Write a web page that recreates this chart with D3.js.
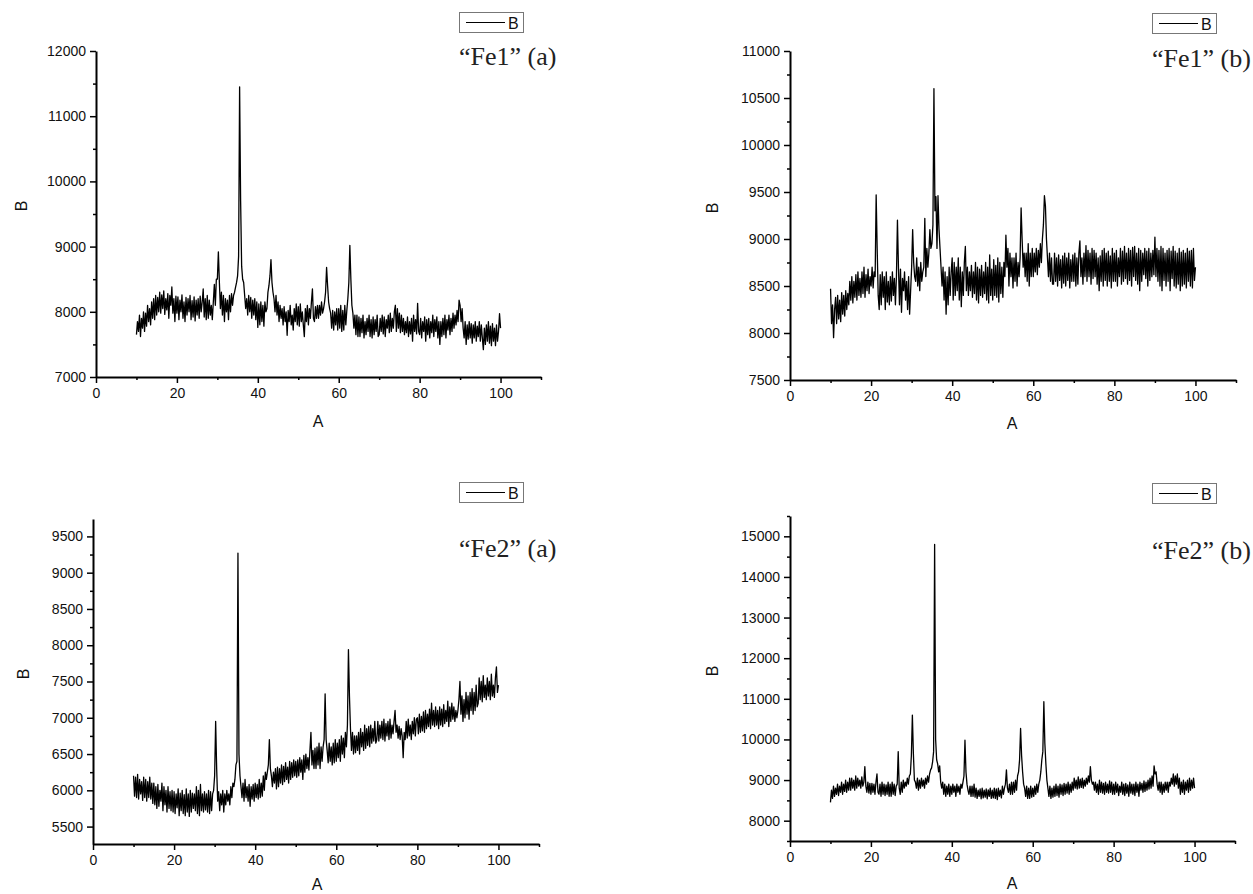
<!DOCTYPE html>
<html>
<head>
<meta charset="utf-8">
<script src="https://cdn.jsdelivr.net/npm/d3@7"></script>
<style>
  body { margin: 0; background: #fff; }
  svg { display: block; }
  .tick text { font-family: "Liberation Sans", Arial, sans-serif; font-size: 14px; fill: #111; }
</style>
</head>
<body>
<svg id="chart" width="1253" height="894"></svg>
<script>
// every series is sampled on the same grid: 10 .. 100, step 0.25 (one row = 5 degrees)
const xStart = 10;
const xStep = 0.25;

// "Fe1" (a)
const fe1a = [
  7650, 7850, 7700, 7950, 7620, 7900, 7750, 8000, 7700, 7980, 7780, 8100, 7850, 8050, 7800, 8150, 7900, 8200, 7880, 8250,
  7950, 8220, 8000, 8300, 7980, 8260, 8050, 8320, 7960, 8200, 8030, 8280, 7900, 8250, 8100, 8380, 7980, 8200, 7850, 8240,
  7980, 8230, 7880, 8180, 8000, 8260, 7900, 8150, 7850, 8220, 7950, 8200, 8000, 8250, 7880, 8170, 7920, 8230, 7860, 8180,
  7950, 8200, 7900, 8240, 8000, 8150, 8350, 7920, 8200, 7880, 8250, 7900, 8180, 7950, 8100, 7880, 8150, 8420, 8100, 8500,
  8500, 8920, 8450, 8050, 8300, 7950, 8250, 7850, 8200, 8000, 8180, 7880, 8250, 8000, 8280, 8100, 8250, 8300, 8380, 8450,
  8550, 8850, 11450, 9700, 8700, 8500, 8450, 8250, 8050, 8200, 7950, 8250, 8000, 8220, 7900, 8180, 7950, 8200, 7880, 8150,
  7760, 8120, 7800, 8150, 7850, 8100, 7780, 8150, 8000, 8050, 8300, 8400, 8550, 8800, 8450, 8300, 8200, 8000, 8250, 7950,
  8150, 7850, 8100, 7900, 8050, 7800, 8080, 7850, 8000, 7640, 8020, 7850, 8100, 7800, 7950, 7720, 8050, 7850, 8120, 7800,
  8080, 7780, 8120, 7850, 8000, 7800, 7620, 8050, 7850, 8100, 7800, 8050, 7900, 8150, 8350, 7900, 7850, 8080, 7900, 8100,
  7900, 8100, 7950, 8150, 7980, 8050, 8150, 8300, 8680, 8400, 8150, 8050, 7980, 7750, 8020, 7720, 8000, 7800, 8050, 7720,
  8050, 7750, 8100, 7700, 8020, 7720, 8100, 7800, 8020, 8200, 8450, 9020, 8500, 8100, 7980, 7750, 7950, 7650, 7950, 7620,
  7920, 7620, 7900, 7680, 7950, 7600, 7850, 7650, 7900, 7700, 7950, 7620, 7880, 7600, 7920, 7650, 7880, 7700, 7950, 7620,
  7650, 7900, 7700, 7950, 7660, 7920, 7620, 7880, 7750, 7950, 7680, 7980, 7700, 7900, 7750, 8000, 8100, 7700, 8050, 7750,
  7980, 7680, 7950, 7700, 7900, 7650, 7850, 7680, 7920, 7620, 7850, 7660, 7900, 7550, 7950, 7700, 7880, 7660, 8130, 7700,
  7650, 7900, 7600, 7850, 7700, 7920, 7550, 7880, 7650, 7900, 7600, 7850, 7680, 7950, 7620, 7880, 7700, 7920, 7600, 7850,
  7500, 7850, 7620, 7900, 7650, 7950, 7600, 7880, 7720, 7950, 7650, 7900, 7700, 7980, 7750, 7950, 7800, 8020, 7850, 8180,
  8100, 7850, 8050, 7750, 7600, 7850, 7500, 7800, 7580, 7850, 7600, 7820, 7520, 7800, 7600, 7850, 7550, 7780, 7620, 7850,
  7550, 7800, 7600, 7420, 7750, 7500, 7800, 7550, 7850, 7520, 7780, 7480, 7820, 7550, 7750, 7480, 7800, 7550, 7700, 7970,
  7750
];

// "Fe1" (b)
const fe1b = [
  8470, 8100, 8300, 7950, 8250, 8380, 8100, 8400, 8150, 8350, 8120, 8430, 8200, 8400, 8180, 8450, 8250, 8420, 8300, 8550,
  8350, 8600, 8320, 8550, 8380, 8620, 8350, 8650, 8400, 8580, 8380, 8650, 8420, 8700, 8380, 8620, 8450, 8680, 8420, 8600,
  8500, 8700, 8480, 8650, 8600, 9470, 8900, 8400, 8250, 8620, 8300, 8650, 8380, 8600, 8250, 8650, 8330, 8550, 8300, 8600,
  8340, 8650, 8400, 8580, 8300, 8600, 9200, 8700, 8300, 8680, 8220, 8580, 8450, 8650, 8350, 8550, 8250, 8600, 8200, 8450,
  8700, 9100, 8750, 8600, 8550, 8800, 8500, 8700, 8450, 8750, 8550, 8650, 8700, 9220, 8600, 8900, 8700, 8850, 9100, 8900,
  8950, 9150, 10600, 9300, 9450, 8900, 9460, 9100, 8900, 8700, 8500, 8700, 8350, 8650, 8200, 8600, 8300, 8700, 8400, 8650,
  8800, 8350, 8750, 8400, 8700, 8450, 8800, 8350, 8700, 8280, 8650, 8400, 8750, 8920, 8450, 8700, 8400, 8650, 8450, 8720,
  8380, 8650, 8420, 8750, 8350, 8700, 8320, 8680, 8400, 8720, 8380, 8650, 8420, 8750, 8350, 8700, 8320, 8830, 8400, 8680,
  8350, 8780, 8400, 8720, 8380, 8800, 8330, 8750, 8420, 8700, 8380, 8750, 8600, 9040, 8700, 8900, 8500, 8850, 8600, 8800,
  8480, 8800, 8550, 8850, 8500, 8750, 8600, 8800, 9330, 9000, 8700, 8850, 8600, 8850, 8550, 8950, 8500, 8850, 8600, 8900,
  8600, 8850, 8650, 8900, 8620, 8880, 8700, 8950, 8750, 9000, 9150, 9460, 9350, 9000, 8800, 8600, 8850, 8550, 8800, 8520,
  8520, 8850, 8550, 8800, 8500, 8830, 8560, 8780, 8480, 8820, 8530, 8850, 8500, 8800, 8560, 8850, 8480, 8780, 8550, 8830,
  8550, 8850, 8500, 8800, 8520, 8850, 8980, 8600, 8800, 8520, 8850, 8600, 8930, 8550, 8880, 8600, 8850, 8520, 8900, 8580,
  8880, 8600, 8850, 8520, 8800, 8450, 8820, 8550, 8880, 8500, 8900, 8560, 8850, 8500, 8870, 8550, 8820, 8480, 8900, 8550,
  8850, 8550, 8880, 8500, 8800, 8600, 8900, 8520, 8870, 8550, 8920, 8580, 8850, 8520, 8900, 8560, 8880, 8500, 8910, 8600,
  8920, 8560, 8850, 8520, 8900, 8450, 8880, 8550, 8850, 8620, 8900, 8580, 8870, 8500, 8900, 8560, 8850, 8600, 8880, 8620,
  9020, 8600, 8900, 8550, 8880, 8500, 8920, 8450, 8900, 8560, 8850, 8500, 8880, 8550, 8900, 8450, 8870, 8580, 8920, 8500,
  8870, 8480, 8850, 8520, 8900, 8450, 8860, 8500, 8880, 8520, 8850, 8480, 8900, 8550, 8870, 8500, 8880, 8480, 8900, 8560,
  8700
];

// "Fe2" (a)
const fe2a = [
  6200, 5920, 6180, 5900, 6220, 5880, 6150, 5950, 6120, 5860, 6180, 5900, 6150, 5850, 6120, 5900, 6180, 5880, 6100, 5820,
  6100, 5800, 6050, 5750, 6080, 5780, 6000, 5850, 6100, 5720, 6050, 5800, 6000, 5700, 6050, 5750, 5980, 5720, 6000, 5700,
  5980, 5680, 5950, 5760, 6020, 5650, 5960, 5720, 6000, 5680, 5940, 5650, 6020, 5700, 5950, 5640, 6000, 5700, 5960, 5750,
  5950, 5720, 6050, 5680, 6000, 5650, 6080, 5720, 5950, 5700, 5980, 5730, 5950, 5700, 6000, 5680, 5980, 5720, 5950, 6000,
  6200, 6950, 6300, 5850, 5980, 5720, 5950, 5800, 6000, 5700, 5950, 5800, 6000, 5850, 5950, 5800, 6050, 5900, 6100, 6050,
  6150, 6350, 6400, 9270, 6500, 6200, 6050, 5900, 6100, 5850, 6150, 5900, 6050, 5850, 6080, 5780, 6050, 5880, 6080, 5850,
  6100, 5900, 6080, 5880, 6150, 5900, 6100, 5920, 6200, 6000, 6250, 6150, 6250, 6350, 6700, 6300, 6200, 6050, 6250, 6100,
  6300, 6020, 6320, 6050, 6300, 6100, 6350, 6080, 6330, 6120, 6380, 6150, 6320, 6100, 6400, 6150, 6380, 6180, 6420, 6200,
  6400, 6180, 6420, 6200, 6450, 6250, 6420, 6150, 6480, 6250, 6500, 6300, 6450, 6280, 6550, 6800, 6350, 6550, 6300, 6580,
  6300, 6600, 6350, 6650, 6300, 6600, 6400, 6600, 6700, 7330, 6700, 6550, 6380, 6650, 6400, 6600, 6350, 6650, 6380, 6700,
  6400, 6650, 6450, 6700, 6400, 6750, 6500, 6720, 6450, 6800, 6600, 6900, 7940, 7300, 6850, 6550, 6800, 6500, 6750, 6520,
  6750, 6550, 6800, 6500, 6850, 6600, 6800, 6550, 6900, 6580, 6850, 6620, 6880, 6600, 6900, 6650, 6850, 6680, 6950, 6650,
  6700, 6950, 6680, 6900, 6720, 6950, 6700, 6980, 6680, 6920, 6750, 6950, 6700, 6980, 6720, 6900, 6780, 6950, 7100, 6800,
  6900, 6720, 6880, 6700, 6850, 6750, 6450, 6800, 6700, 6950, 6720, 6980, 6750, 6900, 6700, 6950, 6780, 7000, 6750, 6980,
  7000, 6780, 7050, 6800, 7020, 6820, 7080, 6800, 7100, 6850, 7050, 6880, 7120, 6850, 7200, 6900, 7100, 6880, 7150, 6900,
  7100, 6850, 7150, 6900, 7120, 6880, 7180, 6920, 7100, 6950, 7230, 6880, 7150, 6950, 7200, 6980, 7150, 6950, 7100, 7000,
  7100, 7250, 7500, 7050, 7300, 6950, 7250, 7000, 7350, 7050, 7300, 6980, 7350, 7100, 7400, 7050, 7350, 7100, 7450, 7150,
  7200, 7550, 7250, 7500, 7220, 7580, 7280, 7450, 7250, 7550, 7300, 7500, 7250, 7600, 7300, 7450, 7280, 7550, 7700, 7350,
  7450
];

// "Fe2" (b)
const fe2b = [
  8450, 8750, 8550, 8850, 8600, 8800, 8650, 8900, 8620, 8850, 8700, 8950, 8650, 8900, 8720, 9000, 8700, 8950, 8750, 9050,
  8750, 9050, 8800, 9000, 8750, 9100, 8800, 9050, 8850, 9000, 8800, 9080, 8850, 8950, 9330, 8850, 8700, 8950, 8680, 8920,
  8650, 8920, 8700, 8900, 8650, 8950, 9150, 8700, 8650, 8900, 8600, 8950, 8650, 8900, 8620, 8880, 8650, 8950, 8600, 8900,
  8600, 8950, 8650, 8900, 8620, 8850, 8900, 9700, 8800, 8650, 8950, 8700, 9000, 8800, 8950, 8850, 9050, 8900, 9100, 9150,
  9600, 10600, 9650, 9000, 8950, 8800, 9050, 8750, 9000, 8800, 9050, 8850, 9000, 8800, 9050, 8900, 9100, 8950, 9150, 9250,
  9300, 9450, 9700, 14800, 10000, 9500, 9400, 9200, 9350, 8950, 8800, 8950, 8650, 8900, 8600, 8850, 8650, 8900, 8600, 8850,
  8650, 8900, 8700, 8850, 8600, 8900, 8700, 8850, 8650, 8900, 8800, 8950, 9100, 9980, 9200, 8900, 8750, 8650, 8850, 8600,
  8850, 8600, 8900, 8580, 8800, 8550, 8750, 8600, 8780, 8540, 8800, 8560, 8750, 8580, 8780, 8540, 8760, 8600, 8800, 8550,
  8750, 8560, 8800, 8550, 8780, 8520, 8800, 8600, 8750, 8560, 8850, 8650, 8800, 8900, 9250, 8800, 8700, 8900, 8650, 8950,
  8650, 8950, 8700, 9000, 8750, 9100, 9200, 9500, 10270, 9600, 9200, 8900, 8800, 8600, 8850, 8550, 8800, 8550, 8850, 8580,
  8800, 8600, 8850, 8650, 8900, 8700, 8900, 9000, 9200, 9500, 9700, 10930, 9900, 9400, 9000, 8800, 8600, 8850, 8550, 8800,
  8580, 8850, 8600, 8900, 8620, 8850, 8580, 8900, 8650, 8880, 8620, 8920, 8650, 8900, 8680, 8950, 8650, 8900, 8700, 8950,
  8750, 9050, 8800, 9000, 8780, 9080, 8800, 9020, 8820, 9050, 8800, 9000, 8850, 9050, 8900, 9100, 8950, 9330, 9000, 8900,
  8950, 8750, 8950, 8700, 8900, 8650, 9000, 8700, 8950, 8680, 8920, 8650, 8950, 8700, 8900, 8680, 8980, 8700, 8950, 8650,
  8900, 8650, 8950, 8700, 8900, 8620, 8850, 8700, 8950, 8650, 8900, 8620, 8920, 8680, 8880, 8600, 8950, 8680, 8900, 8650,
  8900, 8620, 8950, 8700, 8900, 8600, 8950, 8750, 8920, 8700, 8980, 8720, 8950, 8750, 9000, 8780, 9050, 8800, 9100, 8850,
  9350, 9150, 9200, 8900, 8750, 8950, 8700, 8950, 8650, 8900, 8700, 8950, 8750, 8950, 8700, 8950, 8850, 9050, 8900, 9150,
  8850, 9100, 8900, 9150, 8800, 9050, 8650, 8950, 8700, 9000, 8650, 8950, 8750, 9000, 8700, 9050, 8750, 9000, 8800, 9050,
  8800
];

// axis ticks
const xMajor = [0, 20, 40, 60, 80, 100];
const xMinor = [10, 30, 50, 70, 90, 110];
const fe1aYMajor = [7000, 8000, 9000, 10000, 11000, 12000];
const fe1bYMajor = [7500, 8000, 8500, 9000, 9500, 10000, 10500, 11000];
const fe2aYMajor = [5500, 6000, 6500, 7000, 7500, 8000, 8500, 9000, 9500];
const fe2bYMajor = [8000, 9000, 10000, 11000, 12000, 13000, 14000, 15000];
const labels = ['\u201CFe1\u201D (a)', '\u201CFe1\u201D (b)', '\u201CFe2\u201D (a)', '\u201CFe2\u201D (b)'];

// panel frames (pixels) and y ranges
const panels = [
  { values: fe1a, yDomain: [7000, 12000], yMajor: fe1aYMajor, yMinorStep: 500,
    left: 96, right: 541, top: 51, bottom: 377,
    legend: [459, 12], label: [459, 65], yTitle: [21, 206], xTitle: [318, 427] },
  { values: fe1b, yDomain: [7500, 11000], yMajor: fe1bYMajor, yMinorStep: 250,
    left: 790, right: 1236, top: 51, bottom: 380,
    legend: [1152, 13], label: [1152, 67], yTitle: [712, 208], xTitle: [1012, 429] },
  { values: fe2a, yDomain: [5260, 9740], yMajor: fe2aYMajor, yMinorStep: 250,
    left: 93, right: 539, top: 519, bottom: 844,
    legend: [459, 482], label: [459, 557], yTitle: [23, 674], xTitle: [317, 890] },
  { values: fe2b, yDomain: [7500, 15500], yMajor: fe2bYMajor, yMinorStep: 500,
    left: 790, right: 1235, top: 516, bottom: 841,
    legend: [1152, 483], label: [1152, 559], yTitle: [712, 671], xTitle: [1012, 889] }
];

const svg = d3.select('#chart');

panels.forEach((p, k) => {
  const g = svg.append('g');
  const x = d3.scaleLinear().domain([0, 110]).range([p.left, p.right]);
  const y = d3.scaleLinear().domain(p.yDomain).range([p.bottom, p.top]);

  const line = d3.line()
    .x((d, i) => x(xStart + i * xStep))
    .y(d => y(d));

  g.append('path')
    .datum(p.values)
    .attr('d', line)
    .attr('fill', 'none')
    .attr('stroke', '#000')
    .attr('stroke-width', 1.3)
    .attr('stroke-linejoin', 'round');

  // minor ticks (no labels)
  const yMinor = d3.range(Math.ceil(p.yDomain[0] / p.yMinorStep) * p.yMinorStep, p.yDomain[1] + 1, p.yMinorStep)
    .filter(v => p.yMajor.indexOf(v) < 0);
  g.append('g')
    .attr('transform', `translate(${p.left},0)`)
    .call(d3.axisLeft(y).tickValues(yMinor).tickSize(3).tickFormat(''))
    .call(s => s.select('.domain').remove())
    .call(s => s.selectAll('line').attr('stroke', '#000').attr('stroke-width', 1.5));
  g.append('g')
    .attr('transform', `translate(0,${p.bottom})`)
    .call(d3.axisBottom(x).tickValues(xMinor).tickSize(3).tickFormat(''))
    .call(s => s.select('.domain').remove())
    .call(s => s.selectAll('line').attr('stroke', '#000').attr('stroke-width', 1.5));

  // major ticks with labels
  g.append('g')
    .attr('transform', `translate(${p.left},0)`)
    .call(d3.axisLeft(y).tickValues(p.yMajor).tickSize(6).tickSizeOuter(0).tickPadding(4).tickFormat(d3.format('d')))
    .call(s => s.selectAll('line').attr('stroke', '#000').attr('stroke-width', 1.5))
    .call(s => s.select('.domain').attr('stroke', '#000').attr('stroke-width', 2));
  g.append('g')
    .attr('transform', `translate(0,${p.bottom})`)
    .call(d3.axisBottom(x).tickValues(xMajor).tickSize(6).tickSizeOuter(0).tickPadding(5).tickFormat(d3.format('d')))
    .call(s => s.selectAll('line').attr('stroke', '#000').attr('stroke-width', 1.5))
    .call(s => s.select('.domain').attr('stroke', '#000').attr('stroke-width', 2));

  // axis titles
  g.append('text')
    .attr('x', p.xTitle[0])
    .attr('y', p.xTitle[1])
    .attr('text-anchor', 'middle')
    .style('font-family', '"Liberation Sans", Arial, sans-serif')
    .style('font-size', '16px')
    .attr('fill', '#111')
    .text('A');
  g.append('text')
    .attr('transform', `translate(${p.yTitle[0] + 6},${p.yTitle[1]}) rotate(-90)`)
    .attr('text-anchor', 'middle')
    .style('font-family', '"Liberation Sans", Arial, sans-serif')
    .style('font-size', '16px')
    .attr('fill', '#111')
    .text('B');

  // legend
  const lg = g.append('g').attr('transform', `translate(${p.legend[0]},${p.legend[1]})`);
  lg.append('rect')
    .attr('x', 0.5).attr('y', 0.5).attr('width', 64).attr('height', 20)
    .attr('fill', '#fff').attr('stroke', '#777').attr('stroke-width', 1);
  lg.append('line')
    .attr('x1', 7).attr('x2', 46).attr('y1', 10.5).attr('y2', 10.5)
    .attr('stroke', '#000').attr('stroke-width', 1);
  lg.append('text')
    .attr('x', 49).attr('y', 16.5)
    .style('font-family', '"Liberation Sans", Arial, sans-serif')
    .style('font-size', '16px')
    .attr('fill', '#111')
    .text('B');

  // sample label
  g.append('text')
    .attr('x', p.label[0]).attr('y', p.label[1])
    .style('font-family', '"Liberation Serif", "Times New Roman", serif')
    .style('font-size', '26px')
    .attr('fill', '#222')
    .text(labels[k]);
});
</script>
</body>
</html>
